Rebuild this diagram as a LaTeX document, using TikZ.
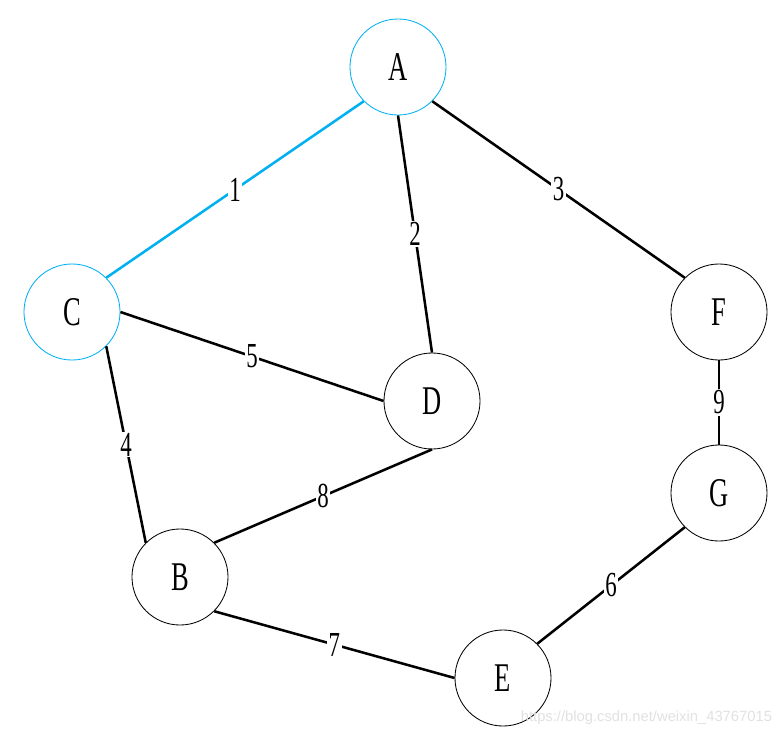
\documentclass[tikz,border=0pt]{standalone}
\usepackage{fontspec}
\usetikzlibrary{positioning}
\newfontfamily\graphfont[FakeStretch=0.65]{Liberation Serif}
\newfontfamily\markfont{Liberation Sans}
\definecolor{pathblue}{RGB}{0,176,240}
\definecolor{marklight}{RGB}{225,225,225}

\begin{document}
\begin{tikzpicture}[
  x=0.025cm, y=-0.025cm,
  vertex/.style={circle, draw, line width=0.6pt, minimum size=2.4cm, inner sep=0pt,
                 font=\graphfont\fontsize{29}{29}\selectfont},
  edge/.style={line width=1.8pt},
  weight/.style={fill=white, text=black, inner sep=1pt, font=\graphfont\fontsize{25}{25}\selectfont}
]
  \useasboundingbox (0,0) rectangle (784,737);

  \node[vertex, draw=pathblue] (A) at (398,67)  {A};
  \node[vertex, draw=pathblue] (C) at (72,312)  {C};
  \node[vertex] (D) at (432,401) {D};
  \node[vertex] (F) at (719,312) {F};
  \node[vertex] (G) at (719,493) {G};
  \node[vertex] (B) at (180,577) {B};
  \node[vertex] (E) at (503,678) {E};

  \draw[edge, pathblue] (A.south west) -- (C.north east) node[weight, midway] {1};
  \draw[edge] (A.south) -- (D.north) node[weight, midway] {2};
  \draw[edge] (A.south east) -- (F.north west) node[weight, midway] {3};
  \draw[edge] (C.east) -- (D.west) node[weight, midway] {5};
  \draw[edge] (C.south east) -- (B.north west) node[weight, midway] {4};
  \draw[edge] (D.south) -- (B.north east) node[weight, midway] {8};
  \draw[edge] (B.south east) -- (E.west) node[weight, midway] {7};
  \draw[edge] (E.north east) -- (G.south west) node[weight, midway] {6};
  \draw[edge] (F.south) -- (G.north) node[weight, midway] {9};

  % watermark
  \node[anchor=east, text=marklight, font=\markfont\fontsize{10.5}{10.5}\selectfont] (wm) at (777,718)
    {https://blog.csdn.net/weixin\_43767015};
\end{tikzpicture}
\end{document}
